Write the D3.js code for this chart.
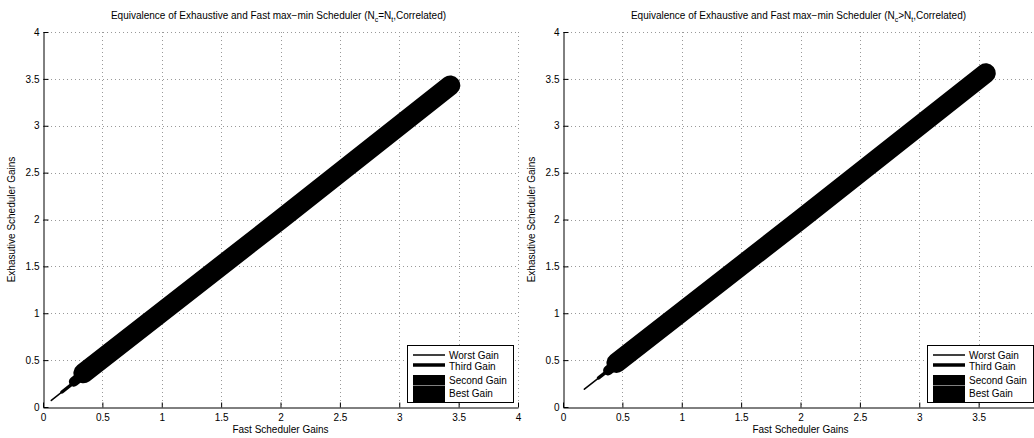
<!DOCTYPE html>
<html>
<head>
<meta charset="utf-8">
<script src="https://cdn.jsdelivr.net/npm/d3@7"></script>
<style>
  body { margin: 0; background: #fff; }
  svg { display: block; font-family: "Liberation Sans", Arial, Helvetica, sans-serif; }
</style>
</head>
<body>
<svg id="chart" width="1034" height="438"></svg>
<script>
// ---- data ----
const tickValues = [0, 0.5, 1, 1.5, 2, 2.5, 3, 3.5, 4];
const tickLabels = ["0", "0.5", "1", "1.5", "2", "2.5", "3", "3.5", "4"];
const seriesNames = ["Worst Gain", "Third Gain", "Second Gain", "Best Gain"];

// (fast gain, exhaustive gain) pairs, left panel: Nc = Nt
const leftWorst  = [[0.07, 0.07], [1.20, 1.20], [2.60, 2.60]];
const leftThird  = [[0.16, 0.16], [1.50, 1.50], [2.90, 2.90]];
const leftSecond = [[0.26, 0.27], [1.80, 1.80], [3.15, 3.15]];
const leftBest   = [[0.34, 0.36], [2.00, 2.00], [3.43, 3.43]];

// right panel: Nc > Nt
const rightWorst  = [[0.18, 0.19], [1.30, 1.30], [2.70, 2.70]];
const rightThird  = [[0.30, 0.31], [1.60, 1.60], [3.00, 3.00]];
const rightSecond = [[0.38, 0.39], [1.90, 1.90], [3.30, 3.30]];
const rightBest   = [[0.45, 0.47], [2.00, 2.00], [3.56, 3.56]];

const xLabel = "Fast Scheduler Gains";
const yLabel = "Exhasutive Scheduler Gains";

// ---- drawing ----
const svg = d3.select("#chart");
const WIDTH = +svg.attr("width");
const LINE_WIDTHS = [1.5, 3.5, 10, 20];
const FONT = 10;

const panels = [
  { left: 43,  right: 518,  relation: "=", series: [leftWorst, leftThird, leftSecond, leftBest] },
  { left: 563, right: 1038, relation: ">", series: [rightWorst, rightThird, rightSecond, rightBest] },
];

const TOP = 32, BOTTOM = 407;

panels.forEach((p, idx) => {
  const x = d3.scaleLinear().domain([0, 4]).range([p.left, p.right]);
  const y = d3.scaleLinear().domain([0, 4]).range([BOTTOM, TOP]);
  const g = svg.append("g").attr("class", `panel_${idx}`);

  // grid (dotted)
  const grid = g.append("g").attr("class", "grid")
    .attr("stroke", "#999").attr("stroke-width", 1).attr("stroke-dasharray", "1,3");
  tickValues.slice(1).forEach(v => {
    grid.append("line")
      .attr("x1", Math.round(x(v)) + 0.5).attr("x2", Math.round(x(v)) + 0.5)
      .attr("y1", TOP).attr("y2", BOTTOM);
    grid.append("line")
      .attr("x1", p.left).attr("x2", p.right)
      .attr("y1", Math.round(y(v)) + 0.5).attr("y2", Math.round(y(v)) + 0.5);
  });

  // lines, thinnest first so the thick ones sit on top
  const line = d3.line().x(d => x(d[0])).y(d => y(d[1]));
  p.series.forEach((s, i) => {
    g.append("path")
      .datum(s)
      .attr("d", line)
      .attr("fill", "none")
      .attr("stroke", "#000")
      .attr("stroke-width", LINE_WIDTHS[i])
      .attr("stroke-linecap", "round")
      .attr("stroke-linejoin", "round");
  });

  // axes, ticks pointing inward like MATLAB
  const fmt = (d) => tickLabels[tickValues.indexOf(d)];
  const xAxis = g.append("g")
    .attr("transform", `translate(0,${BOTTOM + 0.5})`)
    .call(d3.axisBottom(x).tickValues(tickValues).tickFormat(fmt)
      .tickSizeInner(-5).tickSizeOuter(0).tickPadding(6));
  const yAxis = g.append("g")
    .attr("transform", `translate(${p.left + 0.5},0)`)
    .call(d3.axisLeft(y).tickValues(tickValues).tickFormat(fmt)
      .tickSizeInner(-5).tickSizeOuter(0).tickPadding(4));
  [xAxis, yAxis].forEach(a => {
    a.attr("font-family", null).attr("font-size", FONT);
    a.selectAll("path, line").attr("stroke", "#000");
    a.selectAll("text").attr("fill", "#000");
  });
  // labels that fall past the window edge are not in the picture
  xAxis.selectAll(".tick").filter(d => x(d) + 3 > WIDTH).select("text").remove();

  // axis labels
  g.append("text")
    .attr("x", (p.left + p.right) / 2).attr("y", 433)
    .attr("text-anchor", "middle").attr("font-size", FONT)
    .text(xLabel);
  g.append("text")
    .attr("transform", `translate(${p.left - 28},${(TOP + BOTTOM) / 2}) rotate(-90)`)
    .attr("text-anchor", "middle").attr("font-size", FONT)
    .text(yLabel);

  // title with subscripts
  const title = g.append("text")
    .attr("x", (p.left + p.right) / 2 - 2).attr("y", 19)
    .attr("text-anchor", "middle").attr("font-size", FONT);
  title.append("tspan").text("Equivalence of Exhaustive and Fast max\u2212min Scheduler (N");
  title.append("tspan").attr("font-size", 7).attr("dy", 3).text("c");
  title.append("tspan").attr("dy", -3).text(p.relation + "N");
  title.append("tspan").attr("font-size", 7).attr("dy", 3).text("t");
  title.append("tspan").attr("dy", -3).text(",Correlated)");

  // legend
  const lw = 106, lh = 57;
  const lx = p.right - 5 - lw, ly = BOTTOM - 5 - lh;
  const clipId = `legendClip_${idx}`;
  g.append("clipPath").attr("id", clipId)
    .append("rect").attr("x", lx).attr("y", ly).attr("width", lw).attr("height", lh);
  const legend = g.append("g").attr("class", "legend");
  legend.append("rect")
    .attr("x", lx + 0.5).attr("y", ly + 0.5).attr("width", lw).attr("height", lh)
    .attr("fill", "#fff").attr("stroke", "#000").attr("stroke-width", 1);
  const rowY = [10, 20, 35, 50];
  const samples = legend.append("g").attr("clip-path", `url(#${clipId})`);
  seriesNames.forEach((name, i) => {
    samples.append("line")
      .attr("x1", lx + 6).attr("x2", lx + 38)
      .attr("y1", ly + rowY[i]).attr("y2", ly + rowY[i])
      .attr("stroke", "#000").attr("stroke-width", Math.min(LINE_WIDTHS[i], 19));
    legend.append("text")
      .attr("x", lx + 42).attr("y", ly + [10, 21, 35, 48][i])
      .attr("dy", "0.35em").attr("font-size", FONT)
      .text(name);
  });
  // redraw border over the clipped samples
  legend.append("rect")
    .attr("x", lx + 0.5).attr("y", ly + 0.5).attr("width", lw).attr("height", lh)
    .attr("fill", "none").attr("stroke", "#000").attr("stroke-width", 1);
});
</script>
</body>
</html>
